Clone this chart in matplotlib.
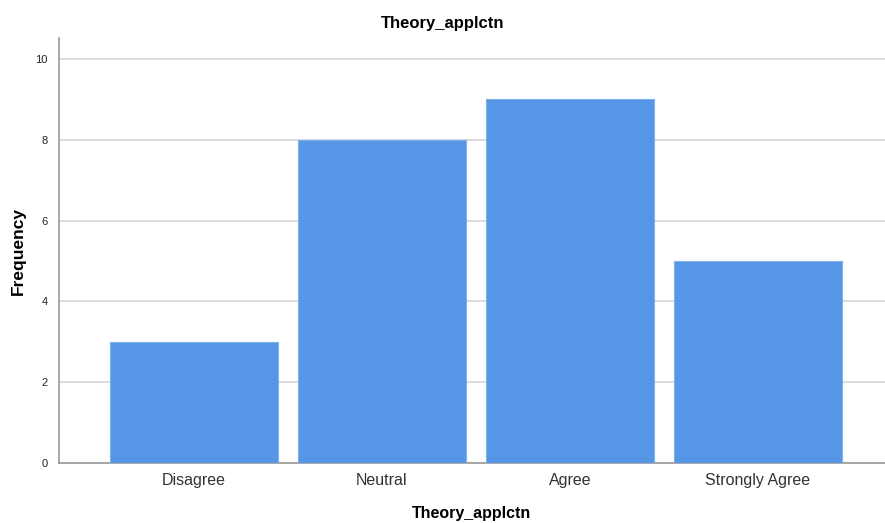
import matplotlib.pyplot as plt
import numpy as np

categories = ["Disagree", "Neutral", "Agree", "Strongly Agree"]
counts = [3, 8, 9, 5]
y_ticks = [0, 2, 4, 6, 8, 10]

plt.rcParams['font.family'] = ['Liberation Sans', 'DejaVu Sans']

fig = plt.figure(figsize=(8.85, 5.23), dpi=100)
ax = fig.add_axes([0.0667, 0.1147, 0.933, 0.8126])

x = np.arange(len(categories))
ax.bar(x, counts, width=0.894, color="#5596E6", edgecolor="#7FB0EE", linewidth=0.8, zorder=3)

ax.set_xlim(-0.718, 3.676)
ax.set_ylim(0, 10.52)
ax.set_yticks(y_ticks)
ax.set_yticklabels([str(v) for v in y_ticks], fontsize=8, color="#222222")
ax.set_xticks(x)
ax.set_xticklabels(categories, fontsize=11.5, color="#333333")
ax.tick_params(axis="x", length=0, pad=7)
ax.tick_params(axis="y", length=0, pad=8)

ax.grid(axis="y", color="#D4D4D4", linewidth=1.2, zorder=0)
for s in ["top", "right"]:
    ax.spines[s].set_visible(False)
ax.spines["left"].set_color("#999999")
ax.spines["bottom"].set_color("#999999")
ax.spines["left"].set_linewidth(1.2)
ax.spines["bottom"].set_linewidth(1.2)

fig.suptitle("Theory_applctn", fontsize=12, fontweight="bold", y=0.97)
ax.set_xlabel("Theory_applctn", fontsize=11.5, fontweight="bold")
ax.xaxis.set_label_coords(0.5, -0.102)
ax.set_ylabel("Frequency", fontsize=12.5, fontweight="bold")
ax.yaxis.set_label_coords(-0.040, 0.5)

fig.savefig("out.png", dpi=100)
